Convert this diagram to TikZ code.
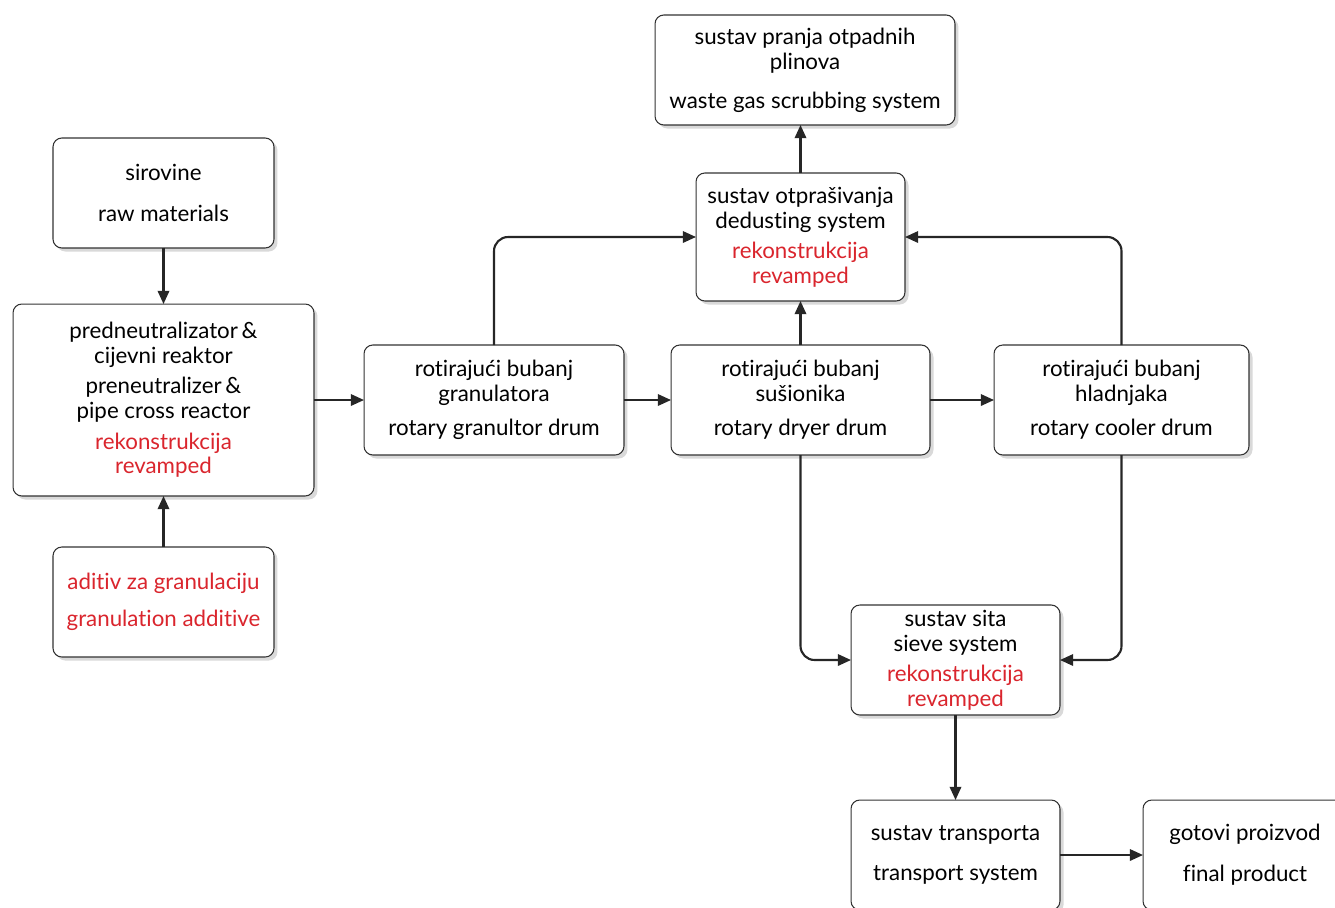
\documentclass[tikz,border=0pt]{standalone}
\usepackage{fontspec}
\setmainfont{Lato}[Ligatures={NoCommon}]
\usetikzlibrary{arrows.meta,shadows,positioning}
\definecolor{revred}{RGB}{218,37,45}

\begin{document}
\begin{tikzpicture}[x=0.02cm, y=-0.02cm, >={Triangle[length=7.5pt,width=6.5pt]},
    main node/.style={draw=black!80, line width=0.6pt, rounded corners=5pt, fill=white,
      align=center, inner sep=0pt, outer sep=0pt, font=\fontsize{12.7}{14.2}\selectfont,
      drop shadow={shadow xshift=2pt, shadow yshift=-2pt, opacity=0.25, fill=black!60}},
    flow/.style={->, line width=1.2pt, draw=black!85, rounded corners=8pt},
    every edge/.style={draw, flow}]

  \useasboundingbox (0,0) rectangle (1335,907);

  % left column
  \node[main node, minimum width=4.42cm, minimum height=2.2cm] (1) at (163.5,193)
    {sirovine\\[9pt]raw materials};
  \node[main node, minimum width=6.02cm, minimum height=3.84cm] (2) at (163.5,400)
    {predneutralizator\,\&\\cijevni reaktor\\[3pt]preneutralizer\,\&\\pipe cross reactor\\[3pt]
     \textcolor{revred}{rekonstrukcija}\\\textcolor{revred}{revamped}};
  \node[main node, minimum width=4.42cm, minimum height=2.2cm] (3) at (163.5,602)
    {\textcolor{revred}{aditiv za granulaciju}\\[7pt]\textcolor{revred}{granulation additive}};

  % drums
  \node[main node, minimum width=5.2cm, minimum height=2.2cm] (4) at (494,400)
    {rotirajući bubanj\\granulatora\\[5pt]rotary granultor drum};
  \node[main node, minimum width=5.18cm, minimum height=2.2cm] (5) at (800.5,400)
    {rotirajući bubanj\\sušionika\\[5pt]rotary dryer drum};
  \node[main node, minimum width=5.1cm, minimum height=2.2cm] (6) at (1121.5,400)
    {rotirajući bubanj\\hladnjaka\\[5pt]rotary cooler drum};

  % gas side
  \node[main node, minimum width=4.18cm, minimum height=2.56cm] (7) at (800.5,237)
    {sustav otprašivanja\\dedusting system\\[3pt]
     \textcolor{revred}{rekonstrukcija}\\\textcolor{revred}{revamped}};
  \node[main node, minimum width=6.0cm, minimum height=2.2cm] (8) at (805,70)
    {sustav pranja otpadnih\\plinova\\[8pt]waste gas scrubbing system};

  % product side
  \node[main node, minimum width=4.18cm, minimum height=2.2cm] (9) at (955.5,660)
    {sustav sita\\sieve system\\[3pt]
     \textcolor{revred}{rekonstrukcija}\\\textcolor{revred}{revamped}};
  \node[main node, minimum width=4.18cm, minimum height=2.2cm] (10) at (955.5,855)
    {sustav transporta\\[9pt]transport system};
  \node[main node, minimum width=4.08cm, minimum height=2.2cm] (11) at (1245,855)
    {gotovi proizvod\\[9pt]final product};

  \path
    (1) edge (2)
    (3) edge (2)
    (2) edge (4)
    (4) edge (5)
    (5) edge (6)
    (5) edge (7)
    (9) edge (10)
    (10) edge (11);

  \draw[flow] (7) -- (7 |- 8.south);
  \draw[flow] (4) |- (7);
  \draw[flow] (6) |- (7);
  \draw[flow] (5) |- (9);
  \draw[flow] (6) |- (9);

\end{tikzpicture}
\end{document}
